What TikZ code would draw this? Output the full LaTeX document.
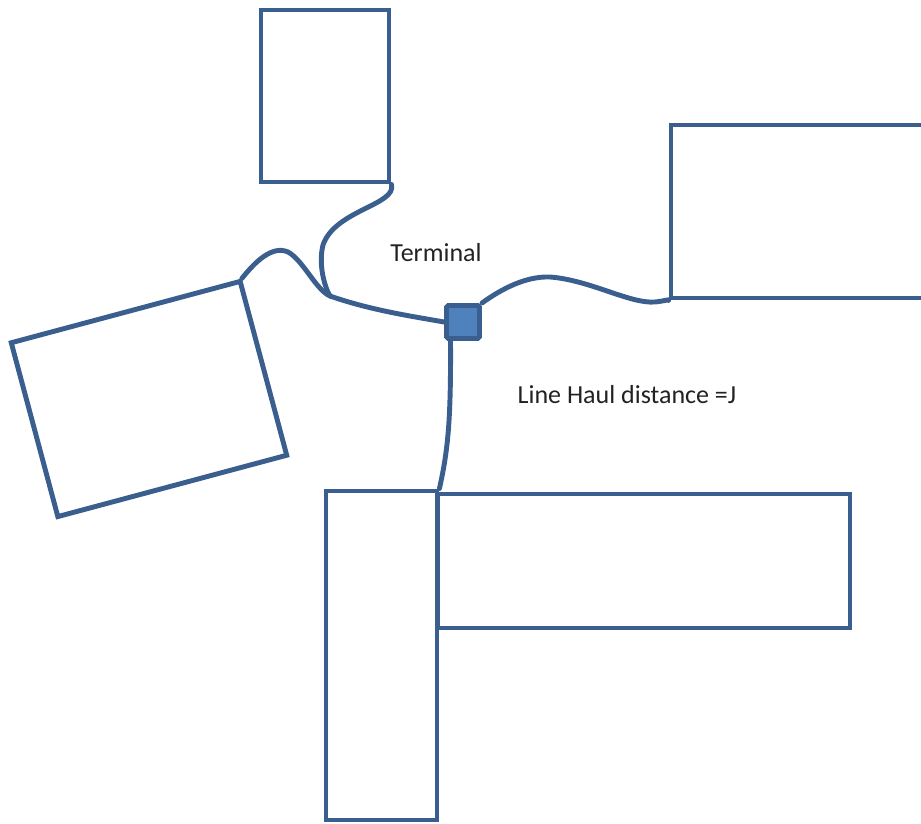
\documentclass[tikz,border=0pt]{standalone}
\usepackage{fontspec}
\setmainfont{Carlito}
\usetikzlibrary{positioning,calc}
\definecolor{cSteel}{HTML}{3A5F8E}
\definecolor{cFill}{HTML}{4F81BD}
\definecolor{cInk}{HTML}{222222}
\tikzset{
  bldg/.style={rectangle,draw=cSteel,line width=2.8pt,inner sep=0pt,fill=none},
  termbox/.style={rectangle,draw=cSteel,line width=2.8pt,fill=cFill,minimum size=0.66cm,inner sep=0pt,rounded corners=1pt},
  haul/.style={line width=2.8pt,cSteel,line cap=round},
  lbl/.style={font=\fontsize{14.8}{18}\selectfont,text=cInk,inner sep=0pt},
}

\begin{document}
\begin{tikzpicture}[x=0.02cm,y=-0.02cm]
  \useasboundingbox (0,0) rectangle (921,824);
  % piers and gates
  \node[bldg,minimum width=2.56cm,minimum height=3.44cm] (pierN) at (325,96) {};
  \node[bldg,minimum width=6cm,minimum height=3.46cm] (pierE) at (821,211.5) {};
  \node[bldg,minimum width=4.74cm,minimum height=3.6cm,rotate=15] (apron) at (149,399) {};
  \node[bldg,minimum width=2.22cm,minimum height=6.58cm] (pierS) at (381.5,655.5) {};
  \node[bldg,minimum width=8.26cm,minimum height=2.68cm] (wing) at (643.5,561) {};
  % terminal
  \node[termbox] (term) at (463,322) {};
  \coordinate (jn) at (330,296);
  \node[lbl] (tlabel) at (436,253) {Terminal};
  \node[lbl] (dlabel) at (627,395) {Line Haul distance =J};
  % line haul links
  \draw[haul] (pierN.south east) .. controls (397,205) and (335,210) .. (323,245)
    .. controls (318,265) and (325,288) .. (jn);
  \draw[haul] (apron.north east) .. controls (255,262) and (272,245) .. (288,252)
    .. controls (303,260) and (316,290) .. (jn);
  \draw[haul] (jn) .. controls (370,310) and (410,316) .. (term.west);
  \draw[haul] (term.north east) .. controls (500,290) and (525,276) .. (550,277)
    .. controls (590,280) and (630,304) .. (655,302)
    .. controls (665,301) and (669,299) .. (pierE.south west);
  \draw[haul] ([xshift=-0.25cm]term.south) .. controls (451,420) and (448,450) .. (pierS.north east);
\end{tikzpicture}
\end{document}
